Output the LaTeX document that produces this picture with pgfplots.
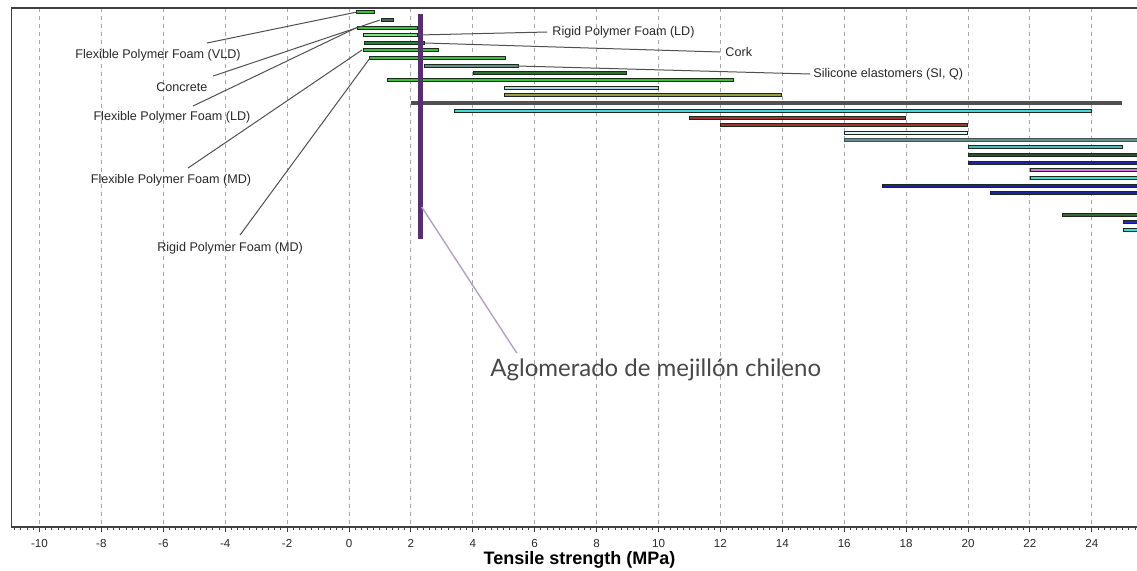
\documentclass[border=0pt]{standalone}
\usepackage{pgfplots}
\pgfplotsset{compat=1.18}
\usepackage{fontspec}
\setmainfont{Liberation Sans}
\newfontfamily\aglo{Lato}
\definecolor{axisgray}{HTML}{404040}
\definecolor{gridgray}{HTML}{A8A8A8}
\definecolor{txt}{HTML}{282828}
\definecolor{lead}{HTML}{505050}
\definecolor{outl}{HTML}{1C2A1C}
\definecolor{cgreen}{HTML}{3CC03C}
\definecolor{cconc}{HTML}{526252}
\definecolor{clgreen}{HTML}{84E084}
\definecolor{cdgreen}{HTML}{2A7A3A}
\definecolor{cslate}{HTML}{6A8C8C}
\definecolor{cdgreen2}{HTML}{2E6E2E}
\definecolor{clblue}{HTML}{B0D8E0}
\definecolor{colive}{HTML}{9A9A40}
\definecolor{cgrey}{HTML}{505050}
\definecolor{ccyan}{HTML}{40D8D8}
\definecolor{cred}{HTML}{A83030}
\definecolor{cpale}{HTML}{E2F8F8}
\definecolor{cteal}{HTML}{58B8B8}
\definecolor{cblk}{HTML}{2E4E2E}
\definecolor{cnavy}{HTML}{2020A0}
\definecolor{corchid}{HTML}{D878D8}
\definecolor{cblue}{HTML}{2828C8}
\definecolor{aglopurple}{HTML}{5B2A78}
\definecolor{aglolead}{HTML}{B3A0CB}
\tikzset{
  rb/.style n args={2}{draw=#2, line width=1.7pt, line cap=butt,
    postaction={draw=#1, line width=0.8pt, shorten <=0.45pt, shorten >=0.45pt}},
  lbl/.style={font=\fontsize{6.3}{7}\selectfont, text=txt, inner sep=0pt},
}
\begin{document}
\begin{tikzpicture}
\begin{axis}[
  x=15.475pt, y=0.5pt, y dir=reverse,
  scale only axis,
  xmin=-10.9, xmax=25.8, ymin=8, ymax=527,
  ytick=\empty,
  xtick={-10,-8,...,24},
  minor xtick={-10.8,-10.6,...,25.7},
  xtick pos=bottom,
  tick align=outside,
  major tick length=2.5pt, minor tick length=1.5pt,
  xmajorgrids=true,
  major grid style={gridgray, line width=0.5pt, dash pattern=on 2pt off 2pt},
  tick style={color=axisgray, line width=0.5pt},
  axis line style={color=axisgray, line width=0.6pt},
  /pgf/number format/assume math mode=true,
  xticklabel style={font=\fontsize{5.8}{6}\selectfont, text=txt},
  xlabel={Tensile strength (MPa)},
  xlabel style={font=\bfseries\fontsize{9}{10}\selectfont, text=black, yshift=5pt},
]
% bars: (xmin,y) (xmax,y), y in chart rows (pixel rows)
\addplot[rb={cgreen}{outl}]  coordinates {(0.23,12) (0.85,12)};
\addplot[rb={cconc}{outl}]   coordinates {(1.03,20) (1.46,20)};
\addplot[rb={cgreen}{outl}]  coordinates {(0.25,28) (2.23,28)};
\addplot[rb={clgreen}{outl}] coordinates {(0.45,35) (2.23,35)};
\addplot[rb={cdgreen}{outl}] coordinates {(0.48,43) (2.46,43)};
\addplot[rb={cgreen}{outl}]  coordinates {(0.45,50) (2.91,50)};
\addplot[rb={cgreen}{outl}]  coordinates {(0.65,58) (5.07,58)};
\addplot[rb={cslate}{outl}]  coordinates {(2.42,66) (5.48,66)};
\addplot[rb={cdgreen2}{outl}] coordinates {(4.01,73) (8.98,73)};
\addplot[rb={cgreen}{outl}]  coordinates {(1.22,80) (12.43,80)};
\addplot[rb={clblue}{outl}]  coordinates {(5.01,88) (10.0,88)};
\addplot[rb={colive}{outl}]  coordinates {(5.01,95) (14.0,95)};
\addplot[draw=cgrey, line width=2.2pt, line cap=butt] coordinates {(2.0,103) (24.98,103)};
\addplot[rb={ccyan}{outl}]   coordinates {(3.39,111) (24.0,111)};
\addplot[rb={cred}{outl}]    coordinates {(11.0,118) (18.0,118)};
\addplot[rb={cred}{outl}]    coordinates {(12.0,125) (19.99,125)};
\addplot[rb={cpale}{outl}]   coordinates {(16.0,133) (19.99,133)};
\addplot[rb={cslate}{cslate!60!black}] coordinates {(16.0,140) (27,140)};
\addplot[rb={cteal}{outl}]   coordinates {(20.0,147) (25.0,147)};
\addplot[rb={cblk}{outl}]    coordinates {(20.0,155) (27,155)};
\addplot[rb={cnavy}{outl}]   coordinates {(20.0,163) (27,163)};
\addplot[rb={corchid}{outl}] coordinates {(22.0,170) (27,170)};
\addplot[rb={ccyan}{outl}]   coordinates {(22.0,178) (27,178)};
\addplot[rb={cnavy}{outl}]   coordinates {(17.23,186) (27,186)};
\addplot[rb={cnavy}{outl}]   coordinates {(20.7,193) (27,193)};
\addplot[rb={cdgreen2}{outl}] coordinates {(23.03,215) (27,215)};
\addplot[rb={cblue}{outl}]   coordinates {(25.0,222) (27,222)};
\addplot[rb={ccyan}{outl}]   coordinates {(25.0,230) (27,230)};
% measured material
\addplot[color=aglopurple, line width=2.2pt, line cap=butt] coordinates {(2.31,14) (2.31,239)};
% leader lines and labels
\draw[lead, line width=0.5pt] (axis cs:-4.59,43) -- (axis cs:0.26,12);
\draw[lead, line width=0.5pt] (axis cs:-4.39,76) -- (axis cs:1.00,20);
\draw[lead, line width=0.5pt] (axis cs:-5.04,106) -- (axis cs:0.29,27);
\draw[lead, line width=0.5pt] (axis cs:-5.20,168) -- (axis cs:0.42,50);
\draw[lead, line width=0.5pt] (axis cs:-3.52,235) -- (axis cs:0.68,58);
\draw[lead, line width=0.5pt] (axis cs:2.23,35) -- (axis cs:6.40,32);
\draw[lead, line width=0.5pt] (axis cs:2.46,43) -- (axis cs:11.99,52);
\draw[lead, line width=0.5pt] (axis cs:5.46,66) -- (axis cs:14.90,74);
\node[lbl] at (axis cs:-6.17,55) {Flexible Polymer Foam (VLD)};
\node[lbl] at (axis cs:-5.40,87) {Concrete};
\node[lbl] at (axis cs:-5.72,117) {Flexible Polymer Foam (LD)};
\node[lbl] at (axis cs:-5.75,180) {Flexible Polymer Foam (MD)};
\node[lbl] at (axis cs:-3.84,248) {Rigid Polymer Foam (MD)};
\node[lbl, anchor=west] at (axis cs:6.56,32) {Rigid Polymer Foam (LD)};
\node[lbl, anchor=west] at (axis cs:12.15,52) {Cork};
\node[lbl, anchor=west] at (axis cs:14.99,74) {Silicone elastomers (SI, Q)};
\draw[aglolead, line width=0.7pt] (axis cs:2.35,207) -- (axis cs:5.42,353);
\node[anchor=west, inner sep=0pt, font=\aglo\fontsize{12}{14}\selectfont, text=txt!85] at (axis cs:4.556,370) {Aglomerado de mejillón chileno};
\coordinate (BL) at (axis cs:-11.276,570);
\coordinate (TR) at (axis cs:25.46,0);
\end{axis}
\pgfresetboundingbox
\useasboundingbox (BL) rectangle (TR);
\end{tikzpicture}
\end{document}
